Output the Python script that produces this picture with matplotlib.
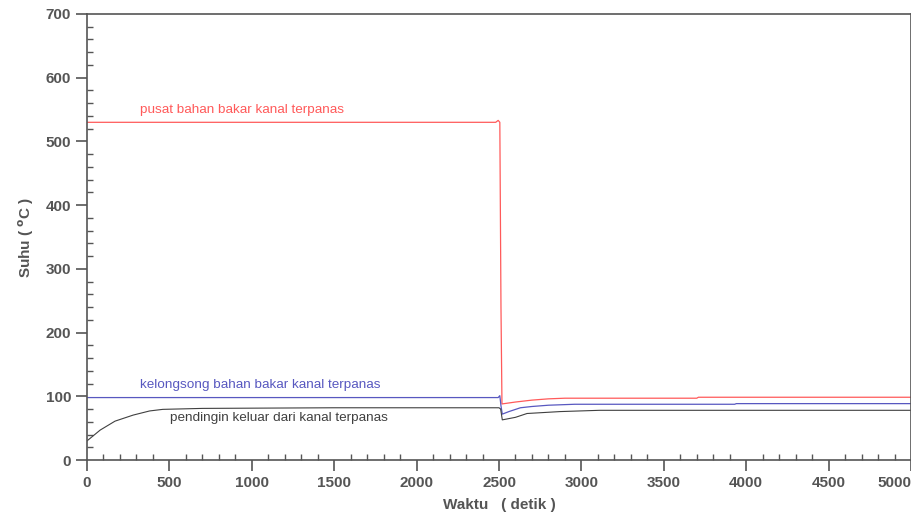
import numpy as np
import matplotlib
matplotlib.use("Agg")
import matplotlib.pyplot as plt
import matplotlib.ticker as mticker
import matplotlib.transforms as mtransforms

# Hottest channel transient
t_fuel = [0, 2480, 2495, 2505, 2512, 2518, 2600, 2700, 2800, 2900, 3700, 3710, 5000]
T_fuel = [530, 530, 533, 530, 240, 88, 91, 94, 96, 97, 97, 98.5, 98.5]

t_clad = [0, 2495, 2505, 2512, 2520, 2560, 2630, 2700, 2800, 2960, 3930, 3940, 5000]
T_clad = [98, 98, 101, 85, 72, 76, 82, 84, 86, 87.5, 87.5, 88.5, 88.5]

t_cool = [0, 80, 170, 280, 380, 460, 700, 1500, 2500, 2510, 2520, 2600, 2670, 2870, 3110, 5000]
T_cool = [30, 47, 61, 70.5, 77, 79.5, 81, 82, 82, 80, 63, 67, 73, 76, 78, 78]

labels = ["pusat bahan bakar kanal terpanas",
          "kelongsong bahan bakar kanal terpanas",
          "pendingin keluar dari kanal terpanas"]

RED, BLUE, BLACK, GREY = "#ff5a5a", "#5858c0", "#404040", "#555555"
X_MAX = 5000

plt.rcParams["font.family"] = ["Liberation Sans", "DejaVu Sans"]

fig = plt.figure(figsize=(9.12, 5.16), dpi=100)
ax = fig.add_axes([0.0954, 0.1085, 0.9035, 0.8644])

ax.plot(t_fuel, T_fuel, color=RED, lw=0.9)
ax.plot(t_clad, T_clad, color=BLUE, lw=0.9)
ax.plot(t_cool, T_cool, color=BLACK, lw=0.8)

ax.text(322, 549, labels[0], color=RED, fontsize=9.7, va="center")
ax.text(322, 118, labels[1], color=BLUE, fontsize=9.7, va="center")
ax.text(504, 66, labels[2], color=BLACK, fontsize=9.7, va="center")

ax.set_xlim(0, X_MAX)
ax.set_ylim(0, 700)
ax.xaxis.set_major_locator(mticker.MultipleLocator(500))
ax.xaxis.set_minor_locator(mticker.MultipleLocator(100))
ax.yaxis.set_major_locator(mticker.MultipleLocator(100))
ax.yaxis.set_minor_locator(mticker.MultipleLocator(20))
# last x label is drawn by hand so it can sit flush with the right edge
ax.xaxis.set_major_formatter(mticker.FuncFormatter(
    lambda x, _: "" if x >= X_MAX else f"{x:.0f}"))
ax.tick_params(which="major", direction="out", length=8, width=1.2,
               color=GREY, labelcolor=GREY, labelsize=11,
               labelfontfamily="Liberation Sans")
ax.tick_params(which="minor", direction="in", length=4, width=1, color=GREY)
for lab in ax.get_xticklabels() + ax.get_yticklabels():
    lab.set_fontweight("bold")
trans = mtransforms.blended_transform_factory(ax.transData, ax.transAxes)
ax.text(X_MAX, 0, f"{X_MAX}", transform=trans + mtransforms.ScaledTranslation(
            0, -11.5 / 72, fig.dpi_scale_trans),
        ha="right", va="top", fontsize=11, fontweight="bold", color=GREY)
for sp in ax.spines.values():
    sp.set_color(GREY)
    sp.set_linewidth(1.2)

ax.set_xlabel("Waktu   ( detik )", fontsize=11, fontweight="bold", color=GREY,
              labelpad=6)
ax.set_ylabel("Suhu ( $^{\\mathbf{o}}$C )", fontsize=11, fontweight="bold", color=GREY,
              labelpad=7)

fig.savefig("out.png", dpi=100)
